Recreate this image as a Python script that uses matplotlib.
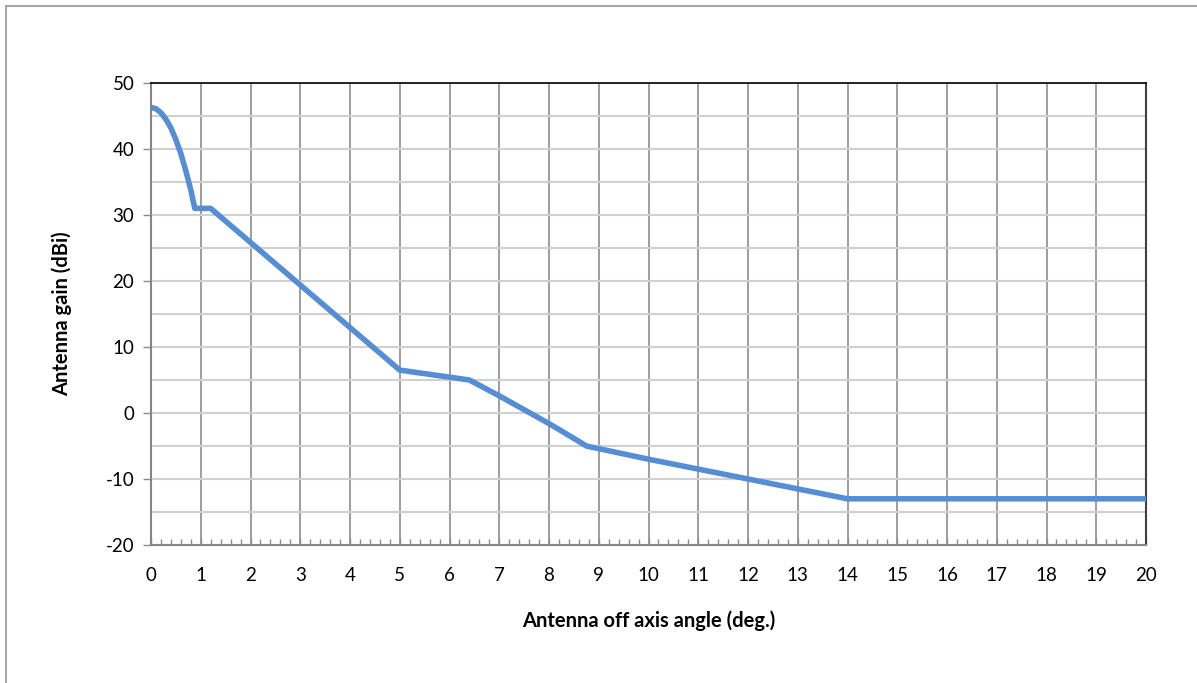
import matplotlib
matplotlib.use("Agg")
import matplotlib.pyplot as plt
from matplotlib.patches import Rectangle
from matplotlib.ticker import MultipleLocator

plt.rcParams['font.family'] = ['Lato', 'DejaVu Sans']
plt.rcParams['axes.unicode_minus'] = False

# antenna pattern
angle = [0.0, 0.1, 0.2, 0.3, 0.4, 0.5, 0.6, 0.7, 0.8, 0.88,
         1.2, 3.0, 5.0, 6.4, 7.0, 8.0, 8.6, 8.75, 10.0, 14.0, 20.0]
gain = [46.3, 46.1, 45.5, 44.5, 43.2, 41.4, 39.3, 36.7, 33.8, 31.0,
        31.0, 19.4, 6.5, 5.0, 2.6, -1.6, -4.3, -5.0, -7.0, -13.0, -13.0]

x_label = "Antenna off axis angle (deg.)"
y_label = "Antenna gain (dBi)"

fig = plt.figure(figsize=(11.97, 6.83), dpi=100)
ax = fig.add_axes([151/1197, 1 - 545/683, (1146 - 151)/1197, (545 - 83)/683])

# outer chart border (left and top visible)
fig.patches.append(Rectangle((6/1197, -0.1), 1.2, 1.1 - 6/683, transform=fig.transFigure,
                             fill=False, edgecolor='#a6a6a6', linewidth=1.5))

ax.plot(angle, gain, color='#558ed5', linewidth=4.0, solid_joinstyle='round', zorder=3)

ax.set_xlim(0, 20)
ax.set_ylim(-20, 50)
ax.xaxis.set_major_locator(MultipleLocator(1))
ax.xaxis.set_minor_locator(MultipleLocator(0.2))
ax.yaxis.set_major_locator(MultipleLocator(10))
ax.yaxis.set_minor_locator(MultipleLocator(5))

ax.grid(axis='x', which='major', color='#8c8c8c', linewidth=1.2)
ax.grid(axis='y', which='both', color='#d0d0d0', linewidth=1.5)
ax.set_axisbelow(True)

ax.tick_params(axis='x', which='major', direction='in', length=5, width=1, color='#8c8c8c',
               labelsize=13.5, pad=16, labelcolor='black')
ax.tick_params(axis='x', which='minor', direction='in', length=4, width=1, color='#8c8c8c')
ax.tick_params(axis='y', which='major', direction='out', length=6, width=1, color='#8c8c8c',
               labelsize=13.5, pad=6)
ax.tick_params(axis='y', which='minor', length=0)

ax.spines['left'].set_color('#868686')
ax.spines['left'].set_linewidth(1.5)
ax.spines['bottom'].set_color('#868686')
ax.spines['bottom'].set_linewidth(1.5)
ax.spines['top'].set_color('black')
ax.spines['top'].set_linewidth(1.2)
ax.spines['right'].set_color('#404040')
ax.spines['right'].set_linewidth(1.5)

ax.set_xlabel(x_label, fontsize=14.5, fontweight='bold', labelpad=19)
ax.set_ylabel(y_label, fontsize=14.5, fontweight='bold', labelpad=24)

fig.savefig("out.png", dpi=100)
